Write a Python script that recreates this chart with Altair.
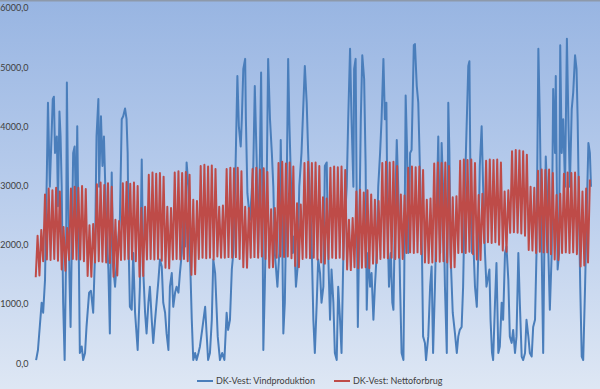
import altair as alt
import pandas as pd

# ---- data (x in days from the start, values in MW) ----
blue_day = [0.3, 0.8, 1.8, 2.2, 2.7, 3.2, 3.5, 4.0, 4.8, 5.1, 5.4, 5.9, 6.2, 6.6, 6.9, 7.2, 7.6, 8.0, 8.4, 8.6,
            8.9, 9.3, 9.6, 10.3, 10.7, 11.1, 11.4, 11.8, 12.1, 12.6, 13.0, 13.5, 13.9, 14.6, 15.1, 15.7, 16.2, 16.6, 17.1, 17.3,
            17.8, 18.2, 18.6, 19.2, 19.8, 20.2, 20.7, 21.1, 21.6, 22.2, 22.9, 23.4, 23.8, 24.3, 24.7, 25.0, 25.3, 25.6, 26.1, 26.5,
            27.0, 27.7, 28.3, 28.8, 29.2, 29.7, 30.1, 30.6, 31.0, 31.5, 31.9, 32.4, 32.8, 33.3, 33.7, 34.2, 34.6, 35.1, 35.5, 36.0,
            36.4, 36.9, 37.3, 37.8, 38.2, 38.7, 39.1, 39.6, 40.0, 40.5, 40.9, 41.4, 41.8, 42.3, 42.7, 43.2, 43.6, 44.1, 44.5, 45.1,
            45.9, 46.3, 46.7, 47.2, 47.7, 48.1, 48.6, 49.3, 49.9, 50.5, 51.1, 51.7, 52.1, 52.6, 53.1, 53.5, 54.0, 54.6, 55.0, 55.5,
            55.8, 56.2, 56.7, 56.9, 57.3, 58.0, 58.9, 59.3, 59.8, 60.2, 60.7, 61.0, 61.4, 61.6, 62.0, 62.5, 62.9, 63.4, 63.9, 64.3,
            64.7, 65.4, 65.9, 66.3, 66.7, 67.0, 67.4, 67.9, 68.3, 68.6, 69.1, 69.5, 69.9, 70.4, 70.8, 71.3, 71.9, 72.8, 73.3, 73.7,
            74.2, 74.6, 75.1, 75.5, 76.0, 76.4, 76.9, 77.3, 77.8, 78.2, 78.7, 79.1, 79.6, 80.0, 80.5, 80.9, 81.4, 81.8, 82.3, 82.7,
            83.2, 83.6, 84.1, 84.5, 85.0, 85.4, 85.9, 86.1, 86.5, 86.8, 87.1, 87.4, 87.9, 88.3, 88.8, 89.2, 89.5, 89.9, 90.4, 90.8,
            91.3, 91.7, 92.2, 92.6, 93.1, 93.5, 94.0, 94.4, 94.8, 95.1, 95.5, 96.0, 96.4, 96.7, 97.1, 97.6, 98.0, 98.5, 98.9, 99.4,
            99.6, 100.0, 100.4, 100.7, 101.2, 101.6, 102.2, 102.5, 103.0, 103.4, 103.7, 104.0, 104.4, 104.7, 105.2, 105.5, 106.1, 106.6, 107.0, 107.4,
            107.9, 108.4, 108.8, 109.3, 109.7, 110.1, 110.6, 111.1, 111.5, 111.8, 112.1, 112.7, 113.3, 113.8, 114.2, 114.6, 115.1, 115.5, 116.0, 116.5,
            116.9, 117.2, 117.5, 117.9, 118.2, 118.7, 119.2, 119.6, 120.0, 120.5, 120.9, 121.4, 121.8, 122.6, 122.9, 123.3, 123.6, 124.1, 124.5, 125.0,
            125.4, 125.9, 126.3, 126.8, 127.2, 127.7, 128.1, 128.6, 129.0, 129.5, 129.9, 130.4, 130.8, 131.3, 131.7, 132.2, 132.6, 133.1, 133.5, 134.0,
            134.4, 134.9, 135.3, 135.8, 136.2, 136.7, 137.1, 137.4, 137.8, 138.1, 138.5, 138.9, 139.4, 139.8, 140.3, 140.5, 141.0, 141.4, 141.7, 142.1,
            142.5, 143.0, 143.5, 143.9, 144.3, 144.8, 145.2, 145.7, 146.1, 146.4, 146.8, 147.1, 147.5, 147.9, 148.4, 148.8, 149.3, 149.7, 150.0]

blue_mw = [50, 220, 1020, 850, 1400, 3220, 4400, 2980, 4460, 4500, 3550, 3830, 2650, 4250, 3830, 2980, 1020, 50, 1860, 4740,
           2980, 1460, 610, 3550, 3660, 2420, 4000, 1970, 170, 280, 50, 170, 610, 1190, 1220, 850, 1860, 3830, 4460, 2980,
           4170, 3330, 3830, 2420, 1580, 500, 3220, 1630, 1290, 1860, 2420, 4120, 4170, 4300, 4120, 3550, 1860, 950, 900, 1860,
           850, 220, 1290, 3440, 1580, 850, 500, 1020, 1290, 730, 340, 730, 1020, 1400, 1750, 1630, 1020, 850, 500, 220,
           1290, 1520, 950, 1190, 1290, 1190, 1520, 1860, 2420, 1970, 3390, 2980, 1860, 730, 50, 170, 50, 170, 280, 560,
           950, 500, 50, 170, 730, 1750, 1520, 450, 50, 170, 50, 850, 560, 730, 1580, 1860, 2980, 4850, 4000, 3660,
           4120, 4970, 5140, 4120, 2870, 2420, 3330, 4680, 3440, 1860, 3550, 4910, 2420, 220, 1290, 2980, 5140, 4120, 3550, 2980,
           1860, 1290, 1860, 3770, 2140, 500, 1020, 2980, 5140, 4120, 2980, 1860, 2140, 1290, 1580, 2980, 3550, 5020, 4400, 3550,
           2700, 2140, 730, 170, 1000, 1750, 1520, 1020, 1290, 3330, 3390, 1860, 730, 1580, 1020, 170, 50, 1290, 730, 170,
           1860, 2420, 2980, 4120, 5310, 4120, 2980, 4970, 5140, 2700, 610, 1860, 4120, 5200, 4800, 3330, 900, 1860, 1290, 1520,
           730, 1290, 1860, 2980, 3550, 4120, 5140, 4120, 4400, 2420, 1290, 1860, 1020, 900, 2420, 3770, 2980, 1290, 170, 50,
           1290, 4520, 3550, 1860, 3550, 3600, 5370, 5390, 4680, 4400, 3660, 2870, 1860, 450, 340, 50, 450, 1290, 1630, 170,
           1290, 2700, 3830, 1860, 3720, 2980, 1290, 170, 4400, 3550, 1860, 850, 500, 170, 450, 560, 610, 1290, 2980, 4120,
           5020, 5100, 2980, 1860, 2140, 1290, 950, 1860, 3330, 4000, 2980, 1860, 1290, 1580, 730, 170, 50, 1020, 1690, 170,
           280, 1020, 730, 1860, 1970, 1400, 450, 340, 560, 170, 450, 1860, 1020, 110, 50, 170, 730, 450, 170, 110,
           610, 730, 1860, 5310, 4120, 1860, 170, 1860, 3490, 2980, 1860, 900, 1860, 4630, 3550, 4850, 1580, 1860, 5370, 3550,
           4120, 2980, 5480, 4120, 2980, 4290, 4570, 5200, 4970, 4120, 2420, 1290, 110, 50, 1290, 2420, 3720, 3550, 2980]

# daily afternoon peak and night trough of net consumption (one value per day)
red_peak = [2150, 2250, 2850, 2950, 2920, 2960, 2900,
            2300, 2280, 2950, 2980, 2960, 2990, 2940,
            2330, 2350, 3020, 3050, 3010, 3040, 2980,
            2420, 2400, 3040, 3060, 3030, 3050, 2990,
            2620, 2640, 3180, 3220, 3200, 3210, 3150,
            2640, 2620, 3220, 3240, 3210, 3230, 3180,
            2760, 2740, 3330, 3350, 3320, 3340, 3280,
            2640, 2660, 3280, 3300, 3290, 3300, 3240,
            2640, 2620, 3280, 3300, 3270, 3290, 3230,
            2600, 2620, 3380, 3400, 3370, 3390, 3320,
            2700, 2680, 3380, 3400, 3380, 3390, 3330,
            2800, 2780, 3300, 3320, 3310, 3320, 3260,
            2420, 2450, 2900, 2930, 2880, 2920, 2850,
            2760, 2740, 3380, 3400, 3390, 3400, 3330,
            2850, 2830, 3300, 3320, 3310, 3320, 3260,
            2760, 2780, 3370, 3390, 3380, 3390, 3330,
            2800, 2820, 3420, 3440, 3430, 3440, 3380,
            2840, 2860, 3420, 3440, 3430, 3440, 3390,
            2900, 2920, 3580, 3600, 3590, 3580, 3520,
            2980, 2960, 3250, 3270, 3260, 3270, 3210,
            2840, 2860, 3200, 3220, 3210, 3220, 3150,
            2900, 2950, 3100]

red_trough = [1450, 1480, 1720, 1750, 1740, 1760, 1730,
              1580, 1560, 1740, 1760, 1750, 1750, 1720,
              1470, 1460, 1700, 1720, 1710, 1700, 1690,
              1460, 1480, 1740, 1750, 1760, 1750, 1720,
              1460, 1470, 1750, 1760, 1750, 1760, 1730,
              1610, 1600, 1750, 1760, 1750, 1760, 1720,
              1490, 1500, 1760, 1780, 1770, 1780, 1750,
              1800, 1780, 1780, 1790, 1780, 1790, 1760,
              1620, 1610, 1780, 1790, 1780, 1800, 1760,
              1610, 1620, 1780, 1800, 1790, 1800, 1770,
              1640, 1620, 1760, 1780, 1770, 1780, 1750,
              1700, 1680, 1760, 1780, 1770, 1780, 1750,
              1580, 1570, 1620, 1600, 1610, 1620, 1600,
              1680, 1690, 1760, 1780, 1770, 1780, 1760,
              1780, 1760, 1860, 1870, 1860, 1870, 1840,
              1700, 1690, 1700, 1720, 1710, 1720, 1700,
              1610, 1620, 1860, 1870, 1860, 1880, 1840,
              1750, 1740, 2030, 2040, 2030, 2040, 2000,
              1900, 1880, 2200, 2210, 2200, 2190, 2150,
              1910, 1900, 1860, 1880, 1870, 1870, 1840,
              1750, 1740, 1860, 1870, 1860, 1870, 1840,
              1630, 1650, 1700]

series_names = ["DK-Vest: Vindproduktion", "DK-Vest: Nettoforbrug"]
series_colors = ["#4A7EBB", "#BE4B48"]
y_ticks = [0, 1000, 2000, 3000, 4000, 5000, 6000]

# ---- tables ----
blue_df = pd.DataFrame({"t": blue_day, "v": blue_mw, "s": series_names[0]})
red_rows = []
for d, (lo, hi) in enumerate(zip(red_trough, red_peak)):
    red_rows.append({"t": d + 0.2, "v": lo})
    red_rows.append({"t": d + 0.7, "v": hi})
red_df = pd.DataFrame(red_rows)
red_df["s"] = series_names[1]

W, H = 600, 389
x_scale = alt.Scale(domain=[-9.44, 152.43], nice=False, zero=False)
y_scale = alt.Scale(domain=[-439, 6135], nice=False, zero=False)
color_scale = alt.Scale(domain=series_names, range=series_colors)

bg = alt.Chart(pd.DataFrame({"a": [0]})).mark_rect(
    color=alt.LinearGradient(
        gradient="linear", x1=0, y1=0, x2=0, y2=1,
        stops=[alt.GradientStop(offset=0, color="#98B5E2"),
               alt.GradientStop(offset=0.5, color="#B9CDEC"),
               alt.GradientStop(offset=1, color="#DEE7F4")]),
).encode(x=alt.value(0), x2=alt.value(W), y=alt.value(0), y2=alt.value(H))

top_border = alt.Chart(pd.DataFrame({"a": [0]})).mark_rule(
    color="#8D99AA", strokeWidth=2
).encode(x=alt.value(0), x2=alt.value(W), y=alt.value(0.5))

y_axis = alt.Axis(values=y_ticks, grid=False, domain=False, ticks=False, tickSize=0,
                  labelPadding=-28, labelAlign="right", labelFontSize=9,
                  labelColor="#404040", labelFont="Lato", zindex=1,
                  labelExpr="replace(format(datum.value, '.1f'), '.', ',')", title=None)

legend = alt.Legend(orient="none", legendX=196, legendY=372, direction="horizontal",
                    title=None, symbolType="stroke", symbolSize=256, symbolStrokeWidth=2,
                    labelFontSize=9, labelFont="Lato", labelColor="#404040",
                    labelOffset=2, columnPadding=14, zindex=1)

blue = alt.Chart(blue_df).mark_line(strokeWidth=2, strokeJoin="round").encode(
    x=alt.X("t:Q", scale=x_scale, axis=None),
    y=alt.Y("v:Q", scale=y_scale, axis=y_axis),
    color=alt.Color("s:N", scale=color_scale, legend=legend),
)

red = alt.Chart(red_df).mark_line(strokeWidth=2, strokeJoin="round").encode(
    x=alt.X("t:Q", scale=x_scale, axis=None),
    y=alt.Y("v:Q", scale=y_scale, axis=y_axis),
    color=alt.Color("s:N", scale=color_scale, legend=legend),
)

chart = alt.layer(bg, top_border, blue, red).properties(
    width=W, height=H, padding=0,
    autosize=alt.AutoSizeParams(type="none"),
).configure_view(stroke=None)

chart.save("out.html", embed_options={"renderer": "svg", "actions": False})
